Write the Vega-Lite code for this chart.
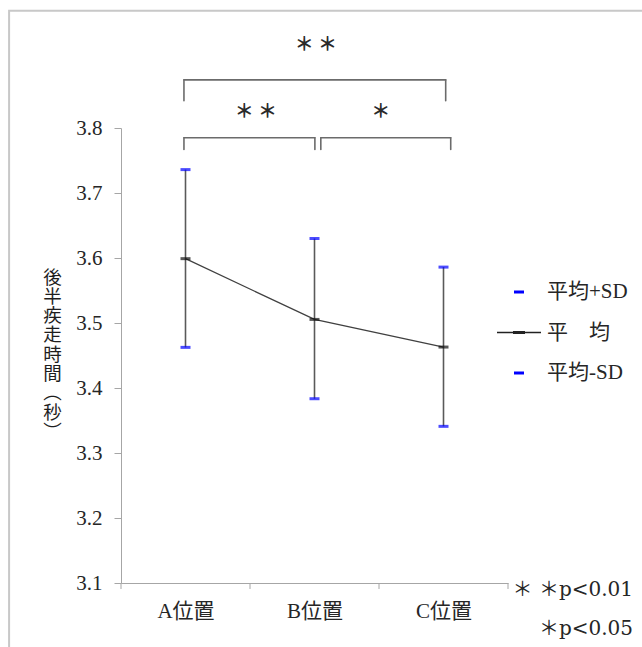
{
  "$schema": "https://vega.github.io/schema/vega-lite/v6.json",
  "width": 387,
  "height": 455,
  "autosize": {"type": "none"},
  "padding": {"left": 121, "top": 128, "right": 134, "bottom": 64},
  "background": "white",
  "config": {"view": {"stroke": null}},
  "datasets": {
    "stats": [
      {"pos": "A位置", "x": 0.5, "mean": 3.599, "sdp": 3.736, "sdm": 3.4625},
      {"pos": "B位置", "x": 1.5, "mean": 3.5055, "sdp": 3.630, "sdm": 3.3835},
      {"pos": "C位置", "x": 2.5, "mean": 3.463, "sdp": 3.586, "sdm": 3.341}
    ],
    "brackets": [
      {"x1": 0.488, "x2": 2.517, "top": 3.874, "leg": 3.842},
      {"x1": 0.488, "x2": 1.503, "top": 3.785, "leg": 3.767},
      {"x1": 1.549, "x2": 2.556, "top": 3.785, "leg": 3.767}
    ],
    "stars": [
      {"x": 1.51, "y": 3.928, "t": "＊ ＊"},
      {"x": 1.046, "y": 3.825, "t": "＊ ＊"},
      {"x": 2.014, "y": 3.825, "t": "＊"}
    ],
    "notes": [{"t": "＊ ＊p<0.01"}],
    "notes2": [{"t": "＊p<0.05"}],
    "bounds": [{"b": 0}, {"b": 1}, {"b": 2}, {"b": 3}]
  },
  "layer": [
    {
      "data": {"values": [{}]},
      "mark": {"type": "rect", "fill": "white", "fillOpacity": 0, "stroke": "#c8c8c8", "strokeWidth": 2},
      "encoding": {
        "x": {"datum": -0.8675, "type": "quantitative", "scale": {"domain": [0, 3], "nice": false, "zero": false},
          "axis": {"values": [0.5, 1.5, 2.5], "labelExpr": "datum.value < 1 ? 'A位置' : datum.value < 2 ? 'B位置' : 'C位置'", "ticks": false, "tickSize": 0, "grid": false, "domainColor": "#a6a6a6", "domainWidth": 1, "labelFont": "Liberation Serif, Noto Sans CJK JP", "labelFontSize": 21, "labelColor": "#262626", "labelPadding": 17, "title": null}},
        "x2": {"datum": 4.5},
        "y": {"datum": 3.9805, "type": "quantitative", "scale": {"domain": [3.1, 3.8], "nice": false, "zero": false},
          "axis": {"values": [3.1, 3.2, 3.3, 3.4, 3.5, 3.6, 3.7, 3.8], "format": ".1f", "grid": false, "tickSize": 7, "tickColor": "#a6a6a6", "domainColor": "#a6a6a6", "labelFont": "Liberation Serif", "labelFontSize": 21, "labelColor": "#262626", "labelPadding": 12,
            "title": ["後", "半", "疾", "走", "時", "間", "︵", "秒", "︶"], "titleAngle": 0, "titleFont": "Noto Sans CJK JP", "titleFontSize": 18.5, "titleFontWeight": "normal", "titleColor": "#1e1e1e", "titleLineHeight": 19.3, "titleAlign": "center", "titleBaseline": "middle", "titleX": -69, "titleY": 149}},
        "y2": {"datum": 2.9}
      }
    },
    {
      "data": {"name": "bounds"},
      "mark": {"type": "rule", "color": "#a6a6a6", "strokeWidth": 1},
      "encoding": {
        "x": {"field": "b", "type": "quantitative"},
        "y": {"datum": 3.1, "type": "quantitative"},
        "y2": {"datum": 3.0908}
      }
    },
    {
      "data": {"name": "stats"},
      "mark": {"type": "rule", "color": "#5a5a5a", "strokeWidth": 1.6},
      "encoding": {
        "x": {"field": "x", "type": "quantitative"},
        "y": {"field": "sdm", "type": "quantitative"},
        "y2": {"field": "sdp"}
      }
    },
    {
      "data": {"name": "stats"},
      "mark": {"type": "line", "color": "#404040", "strokeWidth": 1.3},
      "encoding": {
        "x": {"field": "x", "type": "quantitative"},
        "y": {"field": "mean", "type": "quantitative"}
      }
    },
    {
      "data": {"name": "stats"},
      "mark": {"type": "tick", "orient": "horizontal", "color": "#0000ff", "size": 10, "thickness": 3},
      "encoding": {
        "x": {"field": "x", "type": "quantitative"},
        "y": {"field": "sdp", "type": "quantitative"}
      }
    },
    {
      "data": {"name": "stats"},
      "mark": {"type": "tick", "orient": "horizontal", "color": "#0000ff", "size": 10, "thickness": 3},
      "encoding": {
        "x": {"field": "x", "type": "quantitative"},
        "y": {"field": "sdm", "type": "quantitative"}
      }
    },
    {
      "data": {"name": "stats"},
      "mark": {"type": "tick", "orient": "horizontal", "color": "#111111", "size": 10, "thickness": 3},
      "encoding": {
        "x": {"field": "x", "type": "quantitative"},
        "y": {"field": "mean", "type": "quantitative"}
      }
    },
    {
      "data": {"name": "stats"},
      "transform": [{"fold": ["sdp", "mean", "sdm"], "as": ["key", "val"]}],
      "mark": {"type": "point", "filled": true, "opacity": 0, "size": 1600},
      "encoding": {
        "x": {"field": "x", "type": "quantitative"},
        "y": {"field": "val", "type": "quantitative"},
        "color": {"field": "key", "type": "nominal",
          "scale": {"domain": ["sdp", "mean", "sdm"], "range": ["#0000ff", "#222222", "#0000ff"]},
          "legend": {"orient": "none", "legendX": 378, "legendY": 144, "title": null, "labelExpr": "datum.value == 'sdp' ? '平均+SD' : datum.value == 'mean' ? '平　均' : '平均-SD'", "labelFont": "Liberation Serif, Noto Sans CJK JP", "labelFontSize": 21, "labelColor": "#262626", "labelOffset": 8, "rowPadding": 10.5, "symbolSize": 1600, "symbolStrokeWidth": 0, "symbolOpacity": 1}},
        "shape": {"field": "key", "type": "nominal",
          "scale": {"domain": ["sdp", "mean", "sdm"], "range": ["M-0.25,-0.075H0.25V0.075H-0.25Z", "M-1.1,-0.033H-0.3V-0.075H0.3V-0.033H1.1V0.033H0.3V0.075H-0.3V0.033H-1.1Z", "M-0.25,-0.075H0.25V0.075H-0.25Z"]},
          "legend": {"orient": "none", "legendX": 378, "legendY": 144, "title": null, "labelExpr": "datum.value == 'sdp' ? '平均+SD' : datum.value == 'mean' ? '平　均' : '平均-SD'", "labelFont": "Liberation Serif, Noto Sans CJK JP", "labelFontSize": 21, "labelColor": "#262626", "labelOffset": 8, "rowPadding": 10.5, "symbolSize": 1600, "symbolStrokeWidth": 0, "symbolOpacity": 1}}
      }
    },
    {
      "data": {"name": "brackets"},
      "mark": {"type": "rule", "color": "#6b6b6b", "strokeWidth": 1.6, "strokeCap": "round"},
      "encoding": {
        "x": {"field": "x1", "type": "quantitative"},
        "x2": {"field": "x2"},
        "y": {"field": "top", "type": "quantitative"}
      }
    },
    {
      "data": {"name": "brackets"},
      "mark": {"type": "rule", "color": "#6b6b6b", "strokeWidth": 1.6, "strokeCap": "round"},
      "encoding": {
        "x": {"field": "x1", "type": "quantitative"},
        "y": {"field": "top", "type": "quantitative"},
        "y2": {"field": "leg"}
      }
    },
    {
      "data": {"name": "brackets"},
      "mark": {"type": "rule", "color": "#6b6b6b", "strokeWidth": 1.6, "strokeCap": "round"},
      "encoding": {
        "x": {"field": "x2", "type": "quantitative"},
        "y": {"field": "top", "type": "quantitative"},
        "y2": {"field": "leg"}
      }
    },
    {
      "data": {"name": "stars"},
      "mark": {"type": "text", "font": "Noto Sans CJK JP", "fontSize": 19, "fontWeight": "bold", "color": "#2a2a2a", "baseline": "middle", "align": "center"},
      "encoding": {
        "x": {"field": "x", "type": "quantitative"},
        "y": {"field": "y", "type": "quantitative"},
        "text": {"field": "t"}
      }
    },
    {
      "data": {"name": "notes"},
      "mark": {"type": "text", "font": "DejaVu Serif, Noto Sans CJK JP", "fontSize": 20, "color": "#262626", "align": "right", "baseline": "alphabetic", "dx": 125, "dy": 13},
      "encoding": {
        "x": {"datum": 3, "type": "quantitative"},
        "y": {"datum": 3.1, "type": "quantitative"},
        "text": {"field": "t"}
      }
    },
    {
      "data": {"name": "notes2"},
      "mark": {"type": "text", "font": "DejaVu Serif, Noto Sans CJK JP", "fontSize": 20, "color": "#262626", "align": "right", "baseline": "alphabetic", "dx": 125, "dy": 52},
      "encoding": {
        "x": {"datum": 3, "type": "quantitative"},
        "y": {"datum": 3.1, "type": "quantitative"},
        "text": {"field": "t"}
      }
    }
  ]
}
